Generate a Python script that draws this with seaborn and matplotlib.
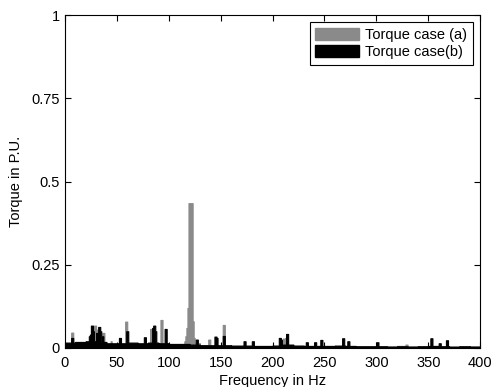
import numpy as np
import pandas as pd
import seaborn as sns
import matplotlib.pyplot as plt
from matplotlib.patches import Patch

# background level of each spectrum, one value per 10 Hz band (0-400 Hz)
floor_a = [0.010, 0.012, 0.014, 0.012, 0.010, 0.008, 0.010, 0.010, 0.012, 0.010,
           0.008, 0.010, 0.014, 0.008, 0.006, 0.006, 0.005, 0.005, 0.005, 0.005,
           0.006, 0.008, 0.006, 0.005, 0.005, 0.005, 0.005, 0.005, 0.004, 0.004,
           0.004, 0.004, 0.006, 0.004, 0.004, 0.004, 0.004, 0.003, 0.004, 0.004]
floor_b = [0.016, 0.018, 0.020, 0.018, 0.014, 0.014, 0.016, 0.014, 0.016, 0.014,
           0.012, 0.012, 0.010, 0.008, 0.008, 0.008, 0.007, 0.007, 0.006, 0.006,
           0.007, 0.010, 0.007, 0.006, 0.006, 0.006, 0.007, 0.006, 0.005, 0.005,
           0.005, 0.004, 0.005, 0.004, 0.005, 0.006, 0.005, 0.004, 0.005, 0.004]

# distinct peaks on a 1 Hz grid: (frequency Hz, torque p.u.)
peaks_a = [(6, 0.046), (7, 0.046), (27, 0.050), (28, 0.067), (29, 0.067), (30, 0.055),
           (36, 0.045), (37, 0.045), (44, 0.020), (58, 0.079), (59, 0.079),
           (82, 0.057), (83, 0.057), (92, 0.084), (93, 0.084), (115, 0.020),
           (116, 0.035), (117, 0.060), (118, 0.120), (119, 0.435), (120, 0.435),
           (121, 0.435), (122, 0.435), (123, 0.080), (124, 0.030), (138, 0.025),
           (139, 0.025), (152, 0.069), (153, 0.069), (210, 0.028), (212, 0.030),
           (328, 0.010), (329, 0.010)]
peaks_b = [(6, 0.030), (7, 0.030), (23, 0.035), (24, 0.040), (25, 0.067), (26, 0.067),
           (27, 0.050), (30, 0.045), (32, 0.063), (33, 0.063), (34, 0.050), (36, 0.035),
           (52, 0.030), (53, 0.030), (59, 0.050), (60, 0.050), (76, 0.032), (77, 0.032),
           (84, 0.060), (85, 0.067), (86, 0.067), (87, 0.050), (96, 0.057), (97, 0.057),
           (126, 0.025), (127, 0.025), (144, 0.034), (145, 0.034), (146, 0.030),
           (152, 0.036), (153, 0.036), (172, 0.020), (173, 0.020), (180, 0.020),
           (181, 0.020), (206, 0.030), (207, 0.030), (208, 0.025), (213, 0.042),
           (214, 0.042), (232, 0.017), (233, 0.017), (240, 0.017), (241, 0.017),
           (246, 0.024), (247, 0.024), (267, 0.029), (268, 0.029), (272, 0.020),
           (273, 0.020), (300, 0.017), (301, 0.017), (352, 0.029), (353, 0.029),
           (360, 0.014), (361, 0.014), (367, 0.023), (368, 0.023)]

freq = np.arange(0, 400)


def spectrum(floor, peaks):
    vals = np.repeat(floor, 10).astype(float)
    for f, v in peaks:
        vals[f] = v
    return vals


df_a = pd.DataFrame({"freq": freq + 0.5, "torque": spectrum(floor_a, peaks_a)})
df_b = pd.DataFrame({"freq": freq + 0.5, "torque": spectrum(floor_b, peaks_b)})

plt.rcParams["font.family"] = ["Liberation Sans", "DejaVu Sans"]
fig = plt.figure(figsize=(4.92, 3.87), dpi=100)
ax = fig.add_axes([0.132, 0.101, 0.844, 0.860])

sns.histplot(data=df_a, x="freq", weights="torque", binwidth=1, binrange=(0, 400),
             element="step", fill=True, color="#8a8a8a", alpha=1,
             edgecolor="#8a8a8a", linewidth=0.8, ax=ax)
sns.histplot(data=df_b, x="freq", weights="torque", binwidth=1, binrange=(0, 400),
             element="step", fill=True, color="black", alpha=1,
             edgecolor="black", linewidth=0.8, ax=ax)

ax.set_xlim(0, 400)
ax.set_ylim(0, 1)
ax.set_xticks(range(0, 401, 50))
ax.set_yticks([0, 0.25, 0.5, 0.75, 1])
ax.set_yticklabels(["0", "0.25", "0.5", "0.75", "1"])
ax.tick_params(direction="in", top=True, right=True, labelsize=10.5, length=4)
ax.tick_params(axis="x", pad=6)
ax.set_xlabel("Frequency in Hz", fontsize=10.5, labelpad=3)
ax.set_ylabel("Torque in P.U.", fontsize=10.5, labelpad=6)
for s in ax.spines.values():
    s.set_linewidth(0.8)

handles = [Patch(facecolor="#8a8a8a", edgecolor="#8a8a8a"),
           Patch(facecolor="black", edgecolor="black")]
leg = ax.legend(handles, ["Torque case (a)", "Torque case(b)"], loc="upper right",
                fontsize=10.5, handlelength=3.0, handleheight=0.9, fancybox=False,
                framealpha=1, edgecolor="black", borderaxespad=0.5,
                labelspacing=0.2, handletextpad=0.4)
leg.get_frame().set_linewidth(0.8)

fig.savefig("out.png", dpi=100)
